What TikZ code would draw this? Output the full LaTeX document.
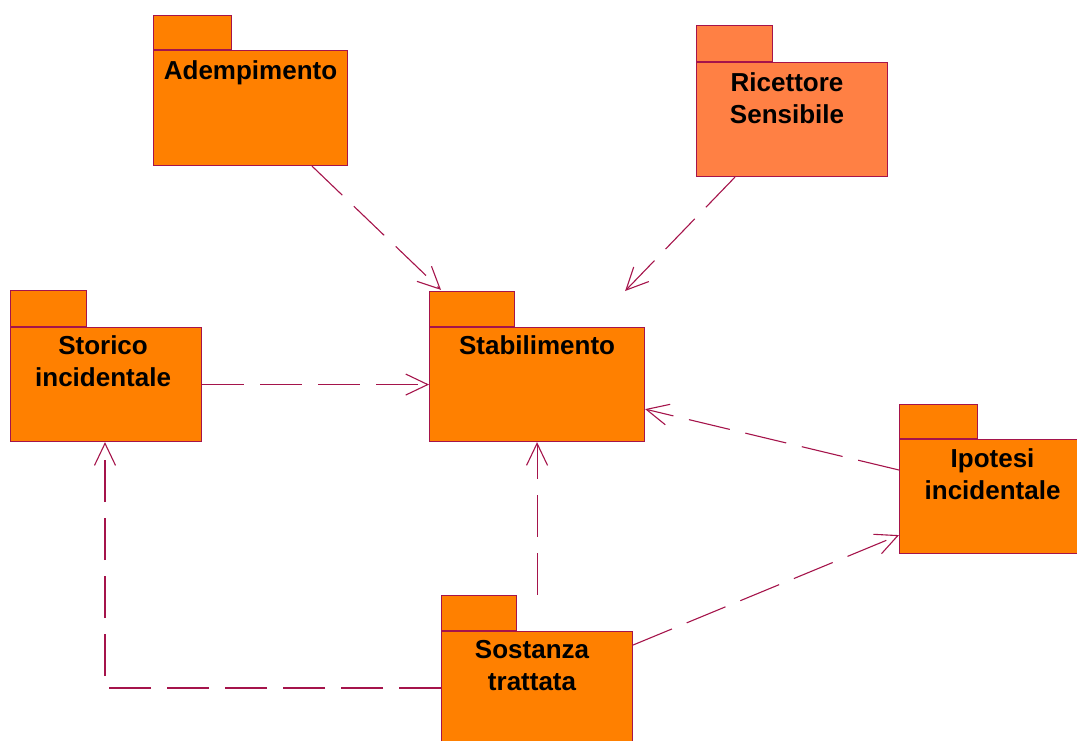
\documentclass[tikz,border=0pt]{standalone}
\usepackage{fontspec}
\setmainfont{Liberation Sans}
\usetikzlibrary{arrows.meta,calc}
\definecolor{pkgfill}{RGB}{255,128,0}
\definecolor{pkglight}{RGB}{255,128,68}
\definecolor{edgecol}{RGB}{165,20,75}
\tikzset{
  pkg/.style={draw=edgecol, fill=pkgfill, line width=1.1pt, inner sep=0pt, anchor=north west},
  pkgtab/.style={draw=edgecol, fill=pkgfill, line width=1.1pt, inner sep=0pt, anchor=south west},
  lbl/.style={anchor=north, inner sep=0pt, align=center, text=black,
    font=\fontsize{26}{32}\selectfont\bfseries},
  dep/.style={draw=edgecol, line width=1.1pt, dash pattern=on 42pt off 16pt,
    -{Straight Barb[length=22pt,width=21pt,line width=1.1pt]}},
}
\begin{document}
\begin{tikzpicture}[x=1pt,y=-1pt]
\path[use as bounding box] (0,0) rectangle (1077,740);

% Adempimento
\node[pkg, minimum width=194pt, minimum height=115pt] (adem) at (153,50) {};
\node[pkgtab, minimum width=78pt, minimum height=34pt] (ademtab) at (adem.north west) {};
\node[lbl] (ademt) at ($(adem.north)+(0,10)$) {Adempimento};

% Ricettore Sensibile
\node[pkg, fill=pkglight, minimum width=191pt, minimum height=114pt] (ricet) at (696,62) {};
\node[pkgtab, fill=pkglight, minimum width=76pt, minimum height=36pt] (ricettab) at (ricet.north west) {};
\node[lbl] (ricett) at ($(ricet.north)+(-5,10)$) {Ricettore\\Sensibile};

% Stabilimento
\node[pkg, minimum width=215pt, minimum height=114pt] (stab) at (429,327) {};
\node[pkgtab, minimum width=85pt, minimum height=35pt] (stabtab) at (stab.north west) {};
\node[lbl] (stabt) at ($(stab.north)+(0,8)$) {Stabilimento};

% Storico incidentale
\node[pkg, minimum width=191pt, minimum height=114pt] (stor) at (10,327) {};
\node[pkgtab, minimum width=76pt, minimum height=36pt] (stortab) at (stor.north west) {};
\node[lbl] (stort) at ($(stor.north)+(-3,8)$) {Storico\\incidentale};

% Ipotesi incidentale
\node[pkg, minimum width=180pt, minimum height=114pt] (ipot) at (899,439) {};
\node[pkgtab, minimum width=78pt, minimum height=34pt] (ipottab) at (ipot.north west) {};
\node[lbl] (ipott) at ($(ipot.north)+(3,9)$) {Ipotesi\\incidentale};

% Sostanza trattata
\node[pkg, minimum width=191pt, minimum height=116pt] (sost) at (441,631) {};
\node[pkgtab, minimum width=75pt, minimum height=35pt] (sosttab) at (sost.north west) {};
\node[lbl] (sostt) at ($(sost.north)+(-5,9)$) {Sostanza\\trattata};

% dependencies
\draw[dep] ($(adem.south west)+(159,0)$) -- ($(stabtab.north west)+(12,-1)$);
\draw[dep] ($(ricet.south west)+(39,0)$) -- ($(stab.north east)+(-20,-36)$);
\draw[dep] (stor.east) -- (stab.west);
\draw[dep] ($(ipot.north west)+(0,31)$) -- ($(stab.south east)+(0,-33)$);
\draw[dep] (sosttab.north -| stab.south) -- (stab.south);
\draw[dep] ($(sost.north east)+(0,14)$) -- ($(ipot.south west)+(0,-19)$);
\draw[dep] ($(sost.north west)+(0,57)$) -| ($(stor.south west)+(95,0)$);
\end{tikzpicture}
\end{document}
